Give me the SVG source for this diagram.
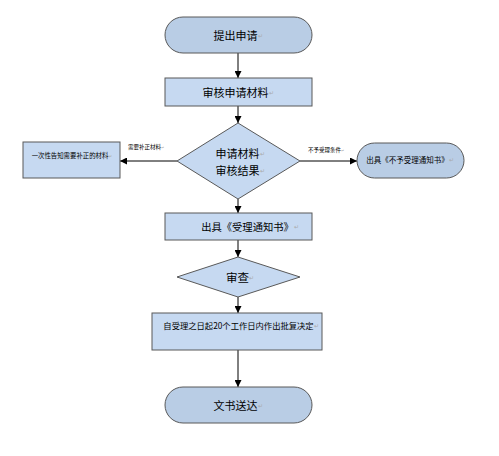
<svg xmlns="http://www.w3.org/2000/svg" width="499" height="456" viewBox="0 0 499 456">
<style>
.term{fill:#b9cde5;stroke:#595959;stroke-width:1}
.box{fill:#c6d9f1;stroke:#595959;stroke-width:1}
.dia{fill:#c6d9f1;stroke:#595959;stroke-width:1}
text{font-family:"Noto Sans CJK SC","Liberation Sans",sans-serif;fill:#000;text-anchor:middle;dominant-baseline:central}
.m{fill:#aaaaaa;font-size:6px}
.ln{stroke:#000;stroke-width:1;fill:none;marker-end:url(#ah)}
</style>
<defs>
<marker id="ah" viewBox="0 0 10 10" refX="10" refY="5" markerWidth="7" markerHeight="7" markerUnits="userSpaceOnUse" orient="auto">
<path d="M0,0 L10,5 L0,10 z" fill="#000"/>
</marker>
</defs>
<rect width="499" height="456" fill="#fff"/>
<g id="connectors">
<line class="ln" x1="238" y1="53" x2="238" y2="78"/>
<line class="ln" x1="238" y1="106" x2="238" y2="123"/>
<line class="ln" x1="177" y1="161" x2="120" y2="161"/>
<line class="ln" x1="300" y1="161" x2="357" y2="161"/>
<line class="ln" x1="238" y1="199" x2="238" y2="213"/>
<line class="ln" x1="238" y1="240" x2="238" y2="257"/>
<line class="ln" x1="238" y1="297" x2="238" y2="313"/>
<line class="ln" x1="238" y1="350" x2="238" y2="387"/>
<text x="146" y="147" style="font-size:5.5px">需要补正材料<tspan class="m" style="font-size:4px">↵</tspan></text>
<text x="326" y="150" style="font-size:5.5px">不予受理条件<tspan class="m" style="font-size:4px">↵</tspan></text>
</g>
<g id="n1">
<rect class="term" x="165" y="17" width="147" height="36" rx="18"/>
<text x="238" y="35" style="font-size:11px">提出申请<tspan class="m">↵</tspan></text>
</g>
<g id="n2">
<rect class="box" x="165" y="78" width="147" height="28"/>
<text x="238" y="92" style="font-size:11px">审核申请材料<tspan class="m">↵</tspan></text>
</g>
<g id="n3">
<polygon class="dia" points="238,123 300,161 238,199 177,161"/>
<text x="240" y="153" style="font-size:11px">申请材料<tspan class="m">↵</tspan></text>
<text x="240" y="170" style="font-size:11px">审核结果<tspan class="m">↵</tspan></text>
</g>
<g id="n4">
<rect class="box" x="23" y="142" width="97" height="36"/>
<text x="72" y="155" style="font-size:6.4px">一次性告知需要补正的材料<tspan class="m" style="font-size:5px">↵</tspan></text>
</g>
<g id="n5">
<rect class="term" x="357" y="143" width="107" height="35" rx="17.5"/>
<text x="410" y="159" style="font-size:7.5px">出具《不予受理通知书》<tspan class="m">↵</tspan></text>
</g>
<g id="n6">
<rect class="box" x="165" y="213" width="147" height="27"/>
<text x="250" y="226" style="font-size:10.3px">出具《受理通知书》<tspan class="m">↵</tspan></text>
</g>
<g id="n7">
<polygon class="dia" points="238,257 300,277 238,297 177,277"/>
<text x="240" y="277" style="font-size:11.5px">审查<tspan class="m">↵</tspan></text>
</g>
<g id="n8">
<rect class="box" x="152" y="313" width="170" height="37"/>
<text x="241" y="325" style="font-size:8.3px">自受理之日起20个工作日内作出批复决定<tspan class="m">↵</tspan></text>
</g>
<g id="n9">
<rect class="term" x="165" y="387" width="147" height="36" rx="18"/>
<text x="238" y="405" style="font-size:11px">文书送达<tspan class="m">↵</tspan></text>
</g>
</svg>
